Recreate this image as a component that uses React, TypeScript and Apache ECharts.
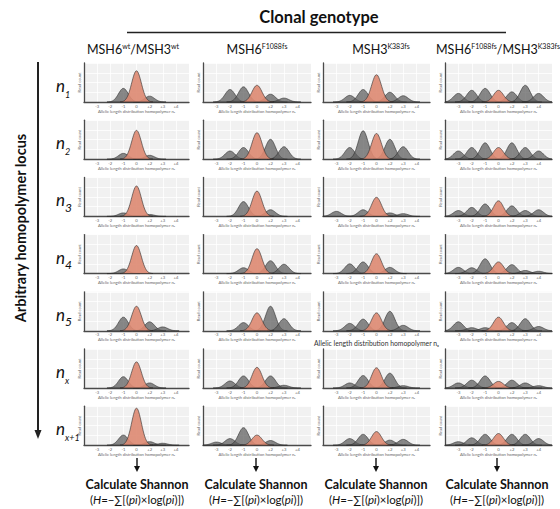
import React, { useEffect, useRef } from "react";
import * as echarts from "echarts";

// Tick labels along each panel's x axis (allelic length offsets)
const tickLabels = ["-3", "-2", "-1", "0", "+2", "+3", "+4"];

// Column headers (clonal genotypes) as [base, sup, base, sup]
const genotypeParts = [
  ["MSH6", "wt", "/MSH3", "wt"],
  ["MSH6", "F1088fs", "", ""],
  ["MSH3", "K383fs", "", ""],
  ["MSH6", "F1088fs", "/MSH3", "K383fs"],
];

// Row labels (homopolymer loci) as [digit style, text]
const lociLabels = [
  ["sub", "1"],
  ["sub", "2"],
  ["inl", "3"],
  ["inl", "4"],
  ["inl", "5"],
  ["sub", "x"],
  ["sub", "x+1"],
];

// Relative read count per allele length (index 3 = reference length, highlighted)
const wtPeaks = [
  [0, 0, 0.35, 0.8, 0.15, 0, 0],
  [0, 0, 0.15, 0.74, 0.1, 0, 0],
  [0, 0, 0.09, 0.78, 0.05, 0, 0],
  [0, 0, 0.12, 0.72, 0, 0, 0],
  [0, 0, 0.35, 0.63, 0.23, 0.1, 0],
  [0, 0, 0.29, 0.67, 0.13, 0, 0],
  [0, 0, 0.26, 0.95, 0.09, 0.05, 0],
];
const msh6Peaks = [
  [0, 0.32, 0.39, 0.43, 0.2, 0.1, 0],
  [0, 0.21, 0.3, 0.68, 0.51, 0.32, 0],
  [0, 0, 0.38, 0.65, 0.17, 0, 0],
  [0, 0, 0.15, 0.64, 0.33, 0.24, 0],
  [0, 0, 0.21, 0.46, 0.63, 0.31, 0],
  [0, 0.18, 0.31, 0.53, 0.31, 0.07, 0],
  [0.08, 0.17, 0.45, 0.26, 0.12, 0, 0],
];
const msh3Peaks = [
  [0, 0.17, 0.32, 0.7, 0.25, 0.16, 0],
  [0, 0.3, 0.73, 0.66, 0.51, 0.32, 0],
  [0.13, 0, 0.17, 0.49, 0.09, 0.07, 0],
  [0, 0.25, 0.3, 0.51, 0.16, 0, 0],
  [0, 0.19, 0.3, 0.46, 0.5, 0.14, 0],
  [0, 0.13, 0.32, 0.52, 0.38, 0.06, 0],
  [0, 0.17, 0.28, 0.35, 0.13, 0.15, 0],
];
const doublePeaks = [
  [0.22, 0.3, 0.35, 0.3, 0.26, 0.43, 0.22],
  [0.21, 0.3, 0.42, 0.3, 0.42, 0.3, 0.21],
  [0.15, 0.23, 0.32, 0.4, 0.27, 0.15, 0.17],
  [0.16, 0.15, 0.38, 0.3, 0.23, 0.08, 0.06],
  [0.23, 0.08, 0.08, 0.35, 0.21, 0.31, 0.11],
  [0.13, 0.2, 0.31, 0.17, 0.2, 0.13, 0.06],
  [0.09, 0.19, 0.28, 0.3, 0.28, 0.28, 0.17],
];
const allPeaks = [wtPeaks, msh6Peaks, msh3Peaks, doublePeaks];

const FONT = "Lato, 'Open Sans', sans-serif";
const REF_INDEX = 3;

const colLeft = [84, 203, 323, 445];
const colWidth = [105, 108, 107, 107];
const headerX = [133, 257, 381, 498];
const bottomX = [137, 256, 376, 497];
const ROW_TOP = 63;
const ROW_STEP = 57.2;
const PANEL_H = 39;

function renderPeak(params: any, api: any) {
  const c = api.value(0);
  const h = api.value(1);
  const isRef = api.value(2) === 1;
  if (!(h > 0)) return null;
  const sigma = 0.37;
  const pts: number[][] = [];
  const x0 = Math.max(-1, c - 1.25);
  const x1 = Math.min(7, c + 1.25);
  const n = 44;
  for (let i = 0; i <= n; i++) {
    const x = x0 + ((x1 - x0) * i) / n;
    const y = h * Math.exp(-((x - c) * (x - c)) / (2 * sigma * sigma));
    pts.push(api.coord([x, y]));
  }
  return {
    type: "polygon",
    shape: { points: pts },
    style: {
      fill: isRef ? "rgba(221,136,113,0.9)" : "rgba(92,92,92,0.72)",
      stroke: "#2e2e2e",
      lineWidth: 0.6,
    },
  };
}

export default function App() {
  const ref = useRef<HTMLDivElement>(null);
  useEffect(() => {
    if (!ref.current) return;
    const chart = echarts.init(ref.current, undefined, { renderer: "svg" });
    const grids: any[] = [];
    const xAxes: any[] = [];
    const yAxes: any[] = [];
    const series: any[] = [];
    let k = 0;
    for (let c = 0; c < 4; c++) {
      for (let r = 0; r < 7; r++) {
        grids.push({
          left: colLeft[c],
          top: ROW_TOP + r * ROW_STEP,
          width: colWidth[c],
          height: PANEL_H,
          show: true,
          backgroundColor: "#f1f1f1",
          borderWidth: 0,
        });
        const bigName = c === 2 && r === 4;
        xAxes.push({
          gridIndex: k,
          type: "value",
          min: -1,
          max: 7,
          interval: 1,
          axisLine: { show: true, onZero: false, lineStyle: { color: "#4a4a4a", width: 1.3 } },
          axisTick: { show: false },
          axisLabel: {
            fontSize: 4.2,
            color: "#666",
            margin: 2,
            fontFamily: FONT,
            formatter: (v: number) => tickLabels[v] ?? "",
          },
          splitLine: { show: true, lineStyle: { color: "#ffffff", width: 0.8 } },
          name: "Allelic length distribution homopolymer n\u2093",
          nameLocation: "middle",
          nameGap: bigName ? 9 : 7,
          nameTextStyle: { fontSize: bigName ? 6.8 : 4.2, color: bigName ? "#333333" : "#666666", fontFamily: FONT },
        });
        yAxes.push({
          gridIndex: k,
          type: "value",
          min: 0,
          max: 1,
          interval: 0.25,
          axisLine: { show: true, onZero: false, lineStyle: { color: "#4a4a4a", width: 1.3 } },
          axisTick: { show: false },
          axisLabel: { show: false },
          splitLine: { show: true, lineStyle: { color: "#ffffff", width: 0.8 } },
          name: "Read count",
          nameLocation: "middle",
          nameGap: 3,
          nameRotate: 90,
          nameTextStyle: { fontSize: 4, color: "#666", fontFamily: FONT },
        });
        const heights = allPeaks[c][r];
        const grayData = heights
          .map((h, i) => [i, h, 0])
          .filter((d) => d[1] > 0 && d[0] !== REF_INDEX);
        const refData = [[REF_INDEX, heights[REF_INDEX], 1]];
        series.push({
          type: "custom",
          xAxisIndex: k,
          yAxisIndex: k,
          renderItem: renderPeak,
          data: [...grayData, ...refData],
          silent: true,
        });
        k++;
      }
    }

    const graphic: any[] = [];
    graphic.push({
      type: "text",
      x: 319,
      y: 17,
      style: {
        text: "Clonal genotype",
        font: `bold 16.5px ${FONT}`,
        fill: "#111",
        align: "center",
        verticalAlign: "middle",
      },
    });
    graphic.push({
      type: "line",
      shape: { x1: 127, y1: 32.5, x2: 506, y2: 32.5 },
      style: { stroke: "#222", lineWidth: 1.6 },
    });
    genotypeParts.forEach((p, i) => {
      const txt = `{b|${p[0]}}{s|${p[1]}}` + (p[2] ? `{b|${p[2]}}{s|${p[3]}}` : "");
      graphic.push({
        type: "text",
        x: headerX[i],
        y: 50,
        style: {
          text: txt,
          align: "center",
          verticalAlign: "middle",
          fill: "#111",
          rich: {
            b: { fontSize: 12.5, fontFamily: FONT, lineHeight: 15, verticalAlign: "top", fill: "#111" },
            s: { fontSize: 7, fontFamily: FONT, lineHeight: 11, verticalAlign: "top", fill: "#111" },
          },
        },
      });
    });
    graphic.push({
      type: "line",
      shape: { x1: 38, y1: 62, x2: 38, y2: 432 },
      style: { stroke: "#222", lineWidth: 2 },
    });
    graphic.push({
      type: "polygon",
      shape: { points: [[34.5, 430], [41.5, 430], [38, 439]] },
      style: { fill: "#222" },
    });
    graphic.push({
      type: "text",
      x: 20,
      y: 228,
      rotation: Math.PI / 2,
      style: {
        text: "Arbitrary homopolymer locus",
        font: `bold 14.5px ${FONT}`,
        fill: "#111",
        align: "center",
        verticalAlign: "middle",
      },
    });
    lociLabels.forEach((l, r) => {
      const isSub = l[0] === "sub";
      graphic.push({
        type: "text",
        x: 56,
        y: ROW_TOP + r * ROW_STEP + 25,
        style: {
          text: isSub ? `{n|n}{s|${l[1]}}` : `{n|n}{d|${l[1]}}`,
          align: "left",
          verticalAlign: "middle",
          rich: {
            n: { fontSize: 17, fontStyle: "italic", fontFamily: FONT, lineHeight: 22, verticalAlign: "top", fill: "#111" },
            s: { fontSize: 9, fontStyle: "italic", fontFamily: FONT, lineHeight: 8, verticalAlign: "bottom", fill: "#111" },
            d: { fontSize: 12, fontStyle: "italic", fontFamily: FONT, lineHeight: 14, verticalAlign: "bottom", fill: "#111" },
          },
        },
      });
    });
    bottomX.forEach((x) => {
      graphic.push({
        type: "line",
        shape: { x1: x, y1: 458, x2: x, y2: 467 },
        style: { stroke: "#111", lineWidth: 1.4 },
      });
      graphic.push({
        type: "polygon",
        shape: { points: [[x - 3, 466], [x + 3, 466], [x, 472]] },
        style: { fill: "#111" },
      });
      graphic.push({
        type: "text",
        x,
        y: 484,
        style: {
          text: "Calculate Shannon",
          font: `bold 12.5px ${FONT}`,
          fill: "#111",
          align: "center",
          verticalAlign: "middle",
        },
      });
      graphic.push({
        type: "text",
        x,
        y: 499,
        style: {
          text: "{r|(}{i|H}{r|=\u2212\u2211[(}{i|pi}{r|)\u00d7log(}{i|pi}{r|)])}",
          align: "center",
          verticalAlign: "middle",
          rich: {
            r: { fontSize: 11.5, fontFamily: FONT, fill: "#111" },
            i: { fontSize: 11.5, fontFamily: FONT, fontStyle: "italic", fill: "#111" },
          },
        },
      });
    });

    chart.setOption({
      animation: false,
      backgroundColor: "#ffffff",
      grid: grids,
      xAxis: xAxes,
      yAxis: yAxes,
      series,
      graphic,
    });
    return () => chart.dispose();
  }, []);
  return (
    <div
      ref={ref}
      style={{ position: "fixed", left: 0, top: 0, width: 560, height: 509 }}
    />
  );
}
